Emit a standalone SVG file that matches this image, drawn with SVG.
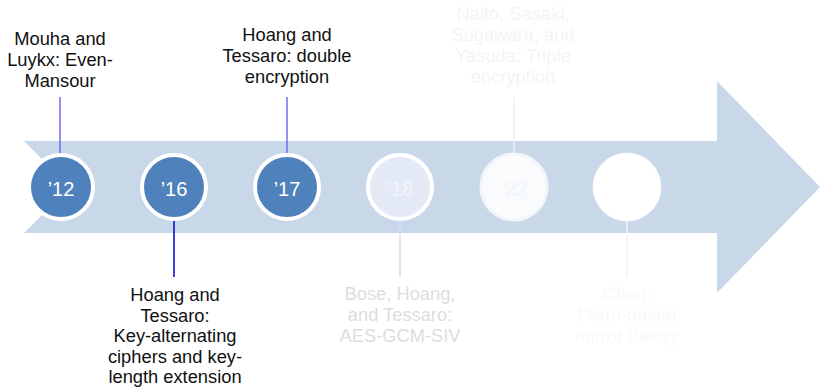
<svg xmlns="http://www.w3.org/2000/svg" width="820" height="389" viewBox="0 0 820 389">
  <style>
    text { font-family: "Liberation Sans", Arial, sans-serif; text-anchor: middle; }
    .lbl { font-size: 18.3px; }
    .yr { font-size: 20px; }
    .dot { stroke: #ffffff; stroke-width: 4; }
    .link { stroke-width: 1.5; fill: none; }
  </style>
  <rect width="820" height="389" fill="#ffffff"/>

  <!-- timeline arrow -->
  <polygon id="timeline" points="24,141 717,141 717,81 820,187 717,293 717,233 24,233 70,187" fill="#c9d8e8"/>

  <!-- connectors -->
  <g id="connectors">
    <line class="link" x1="60" y1="97" x2="60" y2="153" stroke="#6b6bff"/>
    <line class="link" x1="174" y1="221" x2="174" y2="277" stroke="#0000c8"/>
    <line class="link" x1="287" y1="97" x2="287" y2="153" stroke="#6b6bff"/>
    <line class="link" x1="400" y1="221" x2="400" y2="277" stroke="#d8d8ff"/>
    <line class="link" x1="514" y1="97" x2="514" y2="153" stroke="#eef0f4"/>
    <line class="link" x1="627" y1="221" x2="627" y2="277" stroke="#f2f2f4"/>
  </g>

  <g id="y2012">
    <circle class="dot" cx="61" cy="187" r="32" fill="#4f81bd"/>
    <text class="yr" x="61" y="196" fill="#ffffff">’12</text>
    <text class="lbl" fill="#111111"><tspan x="60" y="45">Mouha and</tspan><tspan x="60" y="66">Luykx: Even-</tspan><tspan x="60" y="87">Mansour</tspan></text>
  </g>

  <g id="y2016">
    <circle class="dot" cx="174" cy="187" r="32" fill="#4f81bd"/>
    <text class="yr" x="174" y="196" fill="#ffffff">’16</text>
    <text class="lbl" fill="#111111"><tspan x="175" y="301">Hoang and</tspan><tspan x="175" y="321.5">Tessaro:</tspan><tspan x="175" y="342">Key-alternating</tspan><tspan x="175" y="362.5">ciphers and key-</tspan><tspan x="175" y="383">length extension</tspan></text>
  </g>

  <g id="y2017">
    <circle class="dot" cx="287" cy="187" r="32" fill="#4f81bd"/>
    <text class="yr" x="287" y="196" fill="#ffffff">’17</text>
    <text class="lbl" fill="#111111"><tspan x="287" y="41">Hoang and</tspan><tspan x="287" y="62">Tessaro: double</tspan><tspan x="287" y="83">encryption</tspan></text>
  </g>

  <g id="y2018">
    <circle class="dot" cx="400" cy="187" r="32" fill="#e3eaf5"/>
    <text class="yr" x="400" y="196" fill="#f1f4fa">’18</text>
    <text class="lbl" fill="#dddddd"><tspan x="400" y="300">Bose, Hoang,</tspan><tspan x="400" y="321">and Tessaro:</tspan><tspan x="400" y="342">AES-GCM-SIV</tspan></text>
  </g>

  <g id="y2022">
    <circle cx="514" cy="187" r="33" fill="#f9fbfd" stroke="#f2f5f9" stroke-width="3"/>
    <text class="yr" x="514" y="196" fill="#f2f5fa">’22</text>
    <text class="lbl" fill="#f4f4f4"><tspan x="513" y="20">Naito, Sasaki,</tspan><tspan x="513" y="41">Sugawara, and</tspan><tspan x="513" y="62">Yasuda: Triple</tspan><tspan x="513" y="83">encryption</tspan></text>
  </g>

  <g id="next">
    <circle cx="627" cy="187" r="34" fill="#ffffff" stroke="#f7f8fb" stroke-width="1"/>
    <text class="lbl" fill="#f9f9f9"><tspan x="627" y="300">Chen:</tspan><tspan x="627" y="321">Perm-based</tspan><tspan x="627" y="342">mirror theory</tspan></text>
  </g>
</svg>
